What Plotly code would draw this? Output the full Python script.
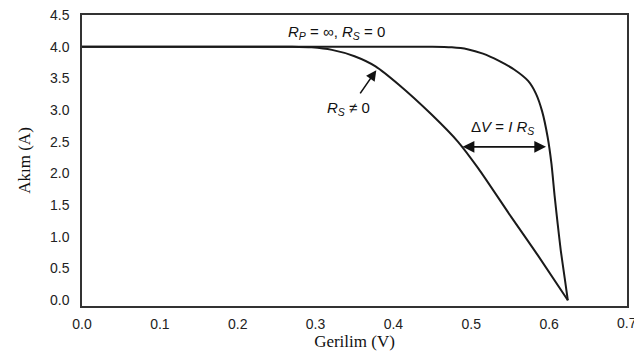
import plotly.graph_objects as go

# Ideal cell (Rp = inf, Rs = 0)
v_ideal = [0.0, 0.10, 0.20, 0.30, 0.40, 0.45, 0.475, 0.495, 0.515, 0.535, 0.555, 0.573, 0.583, 0.591, 0.598, 0.603, 0.607, 0.611, 0.615, 0.620, 0.624]
i_ideal = [4.0, 4.0, 4.0, 4.0, 4.0, 4.0, 3.99, 3.96, 3.89, 3.78, 3.64, 3.46, 3.26, 2.98, 2.58, 2.15, 1.65, 1.20, 0.78, 0.35, 0.0]

# Cell with series resistance (Rs != 0)
v_rs = [0.0, 0.10, 0.20, 0.27, 0.295, 0.321, 0.35, 0.377, 0.407, 0.449, 0.483, 0.509, 0.551, 0.586, 0.624]
i_rs = [4.0, 4.0, 4.0, 4.0, 3.99, 3.95, 3.85, 3.69, 3.40, 2.93, 2.50, 2.08, 1.32, 0.70, 0.0]

x_ticks = [0.0, 0.1, 0.2, 0.3, 0.4, 0.5, 0.6]
x_last_tick = 0.7
y_ticks = [0.0, 0.5, 1.0, 1.5, 2.0, 2.5, 3.0, 3.5, 4.0, 4.5]

line_color = "#1a1a1a"

fig = go.Figure()
fig.add_trace(go.Scatter(x=v_rs, y=i_rs, mode="lines",
                         line=dict(color=line_color, width=2, shape="spline", smoothing=0.6),
                         showlegend=False))
fig.add_trace(go.Scatter(x=v_ideal, y=i_ideal, mode="lines",
                         line=dict(color=line_color, width=2, shape="spline", smoothing=0.6),
                         showlegend=False))

sans = "Liberation Sans, Arial, sans-serif"
serif = "Liberation Serif, Times New Roman, serif"

fig.add_annotation(x=0.327, y=4.23, xref="x", yref="y", showarrow=False,
                   text="<i>R</i><sub><i>P</i></sub> = ∞, <i>R</i><sub><i>S</i></sub> = 0",
                   font=dict(family=sans, size=15, color="#111"))
fig.add_annotation(x=0.342, y=3.02, xref="x", yref="y", showarrow=False,
                   text="<i>R</i><sub><i>S</i></sub> ≠ 0",
                   font=dict(family=sans, size=15, color="#111"))
# arrow pointing to Rs curve
fig.add_annotation(x=0.378, y=3.63, ax=0.356, ay=3.24, xref="x", yref="y",
                   axref="x", ayref="y", showarrow=True, text="",
                   arrowhead=2, arrowsize=1.3, arrowwidth=1.6, arrowcolor="#111")
fig.add_annotation(x=0.54, y=2.72, xref="x", yref="y", showarrow=False,
                   text="Δ<i>V</i> = <i>I R</i><sub><i>S</i></sub>",
                   font=dict(family=sans, size=15, color="#111"))
# double arrow for delta V
fig.add_annotation(x=0.596, y=2.42, ax=0.487, ay=2.42, xref="x", yref="y",
                   axref="x", ayref="y", showarrow=True, text="",
                   arrowhead=2, startarrowhead=2, arrowside="end+start",
                   arrowsize=1.3, startarrowsize=1.3, arrowwidth=1.8, arrowcolor="#111")
# last x tick label (clipped at the page edge as in the original)
fig.add_annotation(x=x_last_tick, y=0, xref="x", yref="paper", yanchor="top",
                   yshift=-7, showarrow=False, text=f"{x_last_tick:.1f}",
                   font=dict(family=sans, size=14, color="#222"))

fig.update_layout(
    width=634, height=356,
    margin=dict(l=82, r=5, t=15, b=50),
    plot_bgcolor="white", paper_bgcolor="white",
    font=dict(family=sans, size=14, color="#222"),
)
fig.update_xaxes(range=[0, 0.7], tickvals=x_ticks,
                 ticktext=[f"{t:.1f}" for t in x_ticks],
                 showgrid=False, zeroline=False, showline=True, mirror=True,
                 linecolor="#333", linewidth=1.5, ticks="", ticklabelstandoff=4,
                 title=dict(text="Gerilim (V)", font=dict(family=serif, size=17, color="#111"), standoff=4))
fig.update_yaxes(range=[-0.09, 4.5], tickvals=y_ticks,
                 ticktext=[f"{t:.1f}" for t in y_ticks],
                 showgrid=False, zeroline=False, showline=True, mirror=True,
                 linecolor="#333", linewidth=1.5, ticks="", ticklabelstandoff=8,
                 title=dict(text="Akım (A)", font=dict(family=serif, size=17, color="#111"), standoff=15))

fig.write_html("out.html")
